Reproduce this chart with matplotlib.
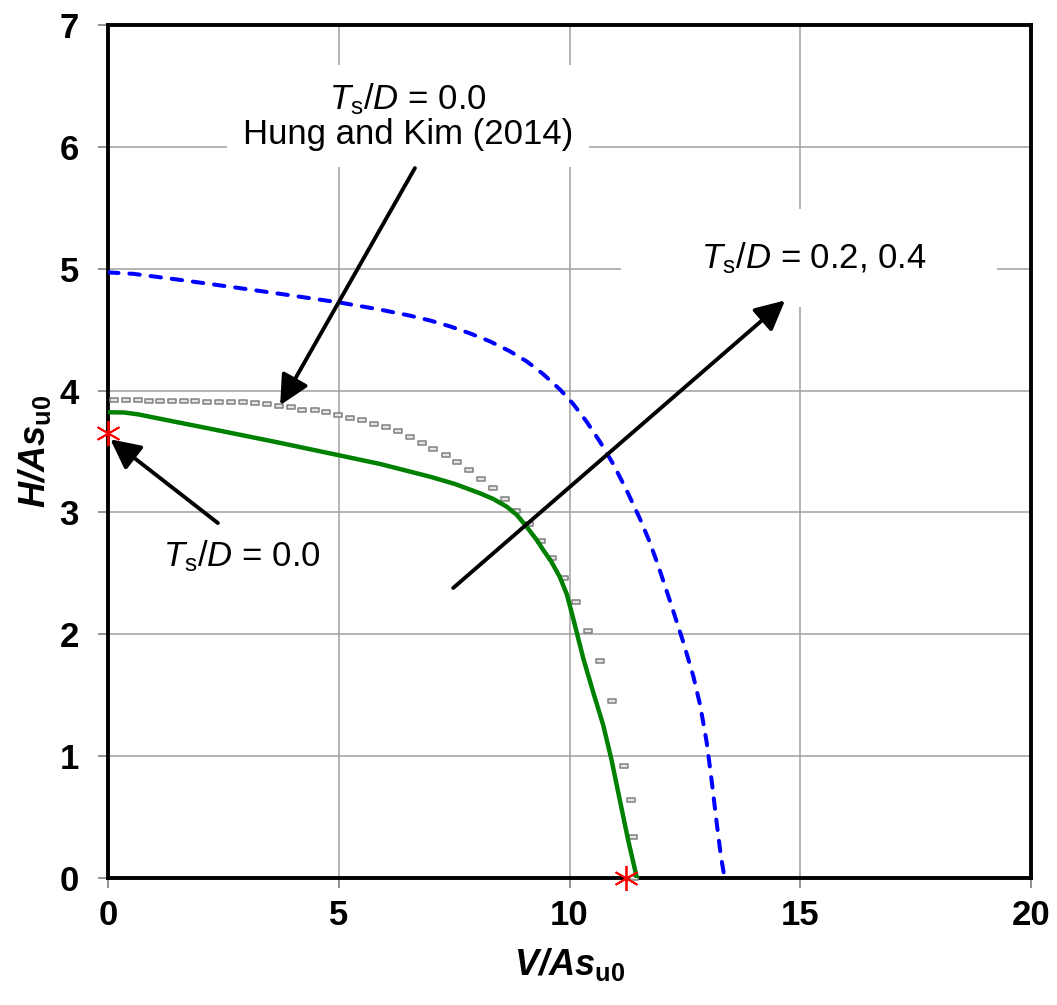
import matplotlib
matplotlib.use('Agg')
import matplotlib.pyplot as plt
from matplotlib.path import Path

plt.rcParams['font.family'] = ['Liberation Sans', 'DejaVu Sans']
plt.rcParams['mathtext.fontset'] = 'custom'
plt.rcParams['mathtext.rm'] = 'Liberation Sans'
plt.rcParams['mathtext.it'] = 'Liberation Sans:italic'
plt.rcParams['mathtext.bf'] = 'Liberation Sans:italic:bold'
plt.rcParams['mathtext.sf'] = 'Liberation Sans:bold'

# Hung and Kim (2014), Ts/D = 0.0 (gray markers)
hk_v = [0.14, 0.40, 0.65, 0.88, 1.13, 1.39, 1.65, 1.89, 2.15, 2.41, 2.67, 2.93,
        3.18, 3.44, 3.70, 3.96, 4.21, 4.48, 4.73, 4.98, 5.25, 5.51, 5.76, 6.02,
        6.28, 6.54, 6.80, 7.05, 7.32, 7.57, 7.82, 8.08, 8.35, 8.60, 8.85, 9.13,
        9.38, 9.63, 9.89, 10.15, 10.41, 10.66, 10.93, 11.18, 11.33, 11.37, 11.40]
hk_h = [3.925, 3.922, 3.920, 3.917, 3.917, 3.914, 3.912, 3.912, 3.909, 3.909, 3.903, 3.903,
        3.895, 3.890, 3.873, 3.862, 3.843, 3.840, 3.821, 3.799, 3.778, 3.756, 3.728, 3.698,
        3.667, 3.620, 3.572, 3.523, 3.468, 3.414, 3.348, 3.274, 3.198, 3.110, 3.012, 2.902,
        2.765, 2.628, 2.464, 2.267, 2.027, 1.781, 1.453, 0.923, 0.640, 0.340, 0.0]

# Ts/D = 0.0 (green solid)
ts0_v = [0, 0.35, 0.65, 1.08, 2.17, 3.61, 4.98, 5.89, 6.98, 7.52, 8.06, 8.35,
         8.64, 8.86, 9.07, 9.29, 9.43, 9.60, 9.79, 9.94, 10.08, 10.30, 10.52, 10.73,
         10.91, 11.09, 11.27, 11.46]
ts0_h = [3.822, 3.820, 3.805, 3.772, 3.690, 3.580, 3.471, 3.398, 3.293, 3.233, 3.157, 3.110,
         3.047, 2.979, 2.883, 2.774, 2.692, 2.600, 2.470, 2.330, 2.130, 1.800, 1.516, 1.255,
         0.970, 0.640, 0.312, 0.0]

# Ts/D = 0.2, 0.4 (blue dashed)
ts24_v = [0, 0.55, 1.63, 2.72, 3.80, 5.03, 5.89, 6.54, 6.98, 7.41, 7.84, 8.28,
          8.71, 9.07, 9.43, 9.79, 10.08, 10.37, 10.66, 10.95, 11.24, 11.53, 11.74, 11.92,
          12.18, 12.47, 12.68, 12.83, 12.97, 13.08, 13.19, 13.28, 13.36]
ts24_h = [4.97, 4.958, 4.905, 4.848, 4.790, 4.722, 4.665, 4.615, 4.575, 4.527, 4.470, 4.403,
          4.322, 4.240, 4.135, 4.010, 3.890, 3.745, 3.580, 3.395, 3.180, 2.945, 2.755, 2.565,
          2.270, 1.930, 1.660, 1.420, 1.120, 0.800, 0.450, 0.180, 0.0]

# Red asterisks (limit points)
star_v = [0, 11.22]
star_h = [3.65, 0]

xticks = [0, 5, 10, 15, 20]
yticks = [0, 1, 2, 3, 4, 5, 6, 7]

rect = Path([(-1, -0.5), (1, -0.5), (1, 0.5), (-1, 0.5), (-1, -0.5)],
            [Path.MOVETO, Path.LINETO, Path.LINETO, Path.LINETO, Path.CLOSEPOLY])

fig = plt.figure(figsize=(10.57, 10.05), dpi=100)
ax = fig.add_axes([0.1022, 0.1264, 0.8732, 0.8487])

ax.plot(ts24_v, ts24_h, color='#0000ff', lw=2.9, dashes=(2.6, 2.7),
        dash_capstyle='round', zorder=3)
ax.plot(hk_v, hk_h, ls='none', marker=rect, ms=5.8, mfc='#e4e4e4', mec='#808080',
        mew=1.1, zorder=4, clip_on=False)
ax.plot(ts0_v, ts0_h, color='#008000', lw=3.2, zorder=5)
ax.plot(star_v, star_h, ls='none', marker=(6, 2, 0), ms=18, mec='red', mew=1.3,
        zorder=6, clip_on=False)

arrow = dict(arrowstyle='-|>,head_length=0.9,head_width=0.45', lw=2.8, color='black',
             mutation_scale=20, shrinkA=0, shrinkB=0)
ax.annotate('', xy=(0.05, 3.60), xytext=(2.38, 2.913), arrowprops=arrow, zorder=7)
ax.annotate('', xy=(3.73, 3.88), xytext=(6.65, 5.826), arrowprops=arrow, zorder=7)
ax.annotate('', xy=(14.67, 4.74), xytext=(7.48, 2.38), arrowprops=arrow, zorder=7)

ax.text(6.50, 6.25, '$T_\\mathrm{s}/D$ = 0.0\nHung and Kim (2014)', fontsize=25,
        ha='center', va='center', linespacing=1.05,
        bbox=dict(boxstyle='square,pad=0.45', fc='white', ec='none'), zorder=2)
ax.text(15.20, 5.09, '     $T_\\mathrm{s}/D$ = 0.2, 0.4     ', fontsize=25,
        ha='center', va='center',
        bbox=dict(boxstyle='square,pad=0.9', fc='white', ec='none'), zorder=2)
ax.text(2.90, 2.64, '$T_\\mathrm{s}/D$ = 0.0', fontsize=25,
        ha='center', va='center',
        bbox=dict(boxstyle='square,pad=0.5', fc='white', ec='none'), zorder=2)

ax.set_xlim(0, 20)
ax.set_ylim(0, 7)
ax.set_xticks(xticks)
ax.set_yticks(yticks)
ax.tick_params(direction='out', length=7, width=1.2, color='#808080',
               labelsize=25)
ax.tick_params(axis='y', pad=14)
ax.tick_params(axis='x', pad=8)
for lbl in ax.get_xticklabels() + ax.get_yticklabels():
    lbl.set_fontweight('bold')
ax.grid(True, color='#a0a0a0', lw=1.1)
ax.set_axisbelow(True)
for sp in ax.spines.values():
    sp.set_linewidth(2.8)
    sp.set_color('black')

ax.set_xlabel('$\\mathbf{V/As}_{\\mathsf{u0}}$', fontsize=26, labelpad=10)
ax.set_ylabel('$\\mathbf{H/As}_{\\mathsf{u0}}$', fontsize=26, labelpad=5)

fig.savefig('out.png', dpi=100)
